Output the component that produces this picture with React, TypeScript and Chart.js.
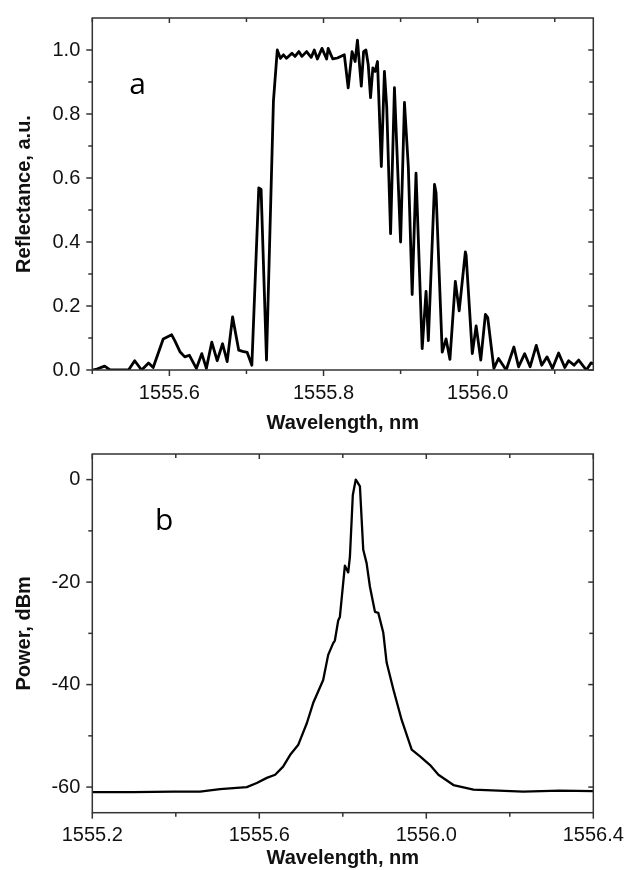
import React, { useEffect, useRef } from 'react';
import { Chart, registerables } from 'chart.js';

Chart.register(...registerables);

// ---------- Panel a: reflectance spectrum ----------
const wavelengthA = [
  1555.500, 1555.506, 1555.516, 1555.523, 1555.532, 1555.547, 1555.555, 1555.564, 1555.573, 1555.579,
  1555.592, 1555.603, 1555.607, 1555.614, 1555.620, 1555.626, 1555.635, 1555.642, 1555.648, 1555.655,
  1555.662, 1555.669, 1555.675, 1555.682, 1555.690, 1555.695, 1555.701, 1555.707, 1555.716, 1555.719,
  1555.726, 1555.735, 1555.740, 1555.744, 1555.748, 1555.752, 1555.759, 1555.763, 1555.768, 1555.772,
  1555.778, 1555.784, 1555.788, 1555.792, 1555.798, 1555.804, 1555.806, 1555.812, 1555.818, 1555.827,
  1555.832, 1555.837, 1555.841, 1555.844, 1555.849, 1555.852, 1555.855, 1555.858, 1555.861, 1555.864,
  1555.867, 1555.870, 1555.875, 1555.879, 1555.882, 1555.887, 1555.892, 1555.900, 1555.905, 1555.910,
  1555.915, 1555.920, 1555.928, 1555.933, 1555.936, 1555.944, 1555.946, 1555.954, 1555.959, 1555.964,
  1555.971, 1555.976, 1555.984, 1555.985, 1555.993, 1555.998, 1556.004, 1556.010, 1556.013, 1556.021,
  1556.027, 1556.037, 1556.047, 1556.053, 1556.061, 1556.068, 1556.076, 1556.083, 1556.090, 1556.097,
  1556.105, 1556.113, 1556.118, 1556.125, 1556.131, 1556.141, 1556.147, 1556.150,
];
const reflectanceA = [
  0.000, 0.003, 0.012, 0.000, 0.000, 0.000, 0.029, 0.000, 0.022, 0.008,
  0.097, 0.110, 0.092, 0.056, 0.041, 0.046, 0.005, 0.051, 0.005, 0.087,
  0.029, 0.082, 0.026, 0.166, 0.062, 0.058, 0.055, 0.015, 0.569, 0.564,
  0.031, 0.840, 1.000, 0.974, 0.985, 0.974, 0.990, 0.980, 0.995, 0.980,
  0.995, 0.977, 1.000, 0.972, 1.005, 0.972, 1.005, 0.972, 0.975, 0.985,
  0.882, 0.995, 0.964, 1.031, 0.887, 0.995, 1.000, 0.954, 0.851, 0.944,
  0.933, 0.964, 0.636, 0.933, 0.821, 0.426, 0.882, 0.400, 0.836, 0.636,
  0.236, 0.615, 0.067, 0.246, 0.092, 0.580, 0.554, 0.056, 0.097, 0.033,
  0.277, 0.185, 0.369, 0.359, 0.051, 0.138, 0.031, 0.174, 0.164, 0.005,
  0.036, 0.000, 0.072, 0.010, 0.051, 0.010, 0.077, 0.015, 0.041, 0.005,
  0.053, 0.008, 0.029, 0.015, 0.031, 0.000, 0.022, 0.020,
];
const xMajorA = [1555.6, 1555.8, 1556.0];
const xMinorA = [1555.5, 1555.7, 1555.9, 1556.1];
const yMajorA = [0.0, 0.2, 0.4, 0.6, 0.8, 1.0];
const yMinorA = [0.1, 0.3, 0.5, 0.7, 0.9];

// ---------- Panel b: laser output spectrum ----------
const wavelengthB = [
  1555.202, 1555.298, 1555.394, 1555.458, 1555.506, 1555.570, 1555.594, 1555.618, 1555.638, 1555.657,
  1555.674, 1555.693, 1555.714, 1555.729, 1555.753, 1555.765, 1555.777, 1555.781, 1555.789, 1555.793,
  1555.805, 1555.813, 1555.817, 1555.824, 1555.831, 1555.835, 1555.841, 1555.849, 1555.857, 1555.865,
  1555.877, 1555.885, 1555.897, 1555.905, 1555.921, 1555.941, 1555.965, 1555.985, 1556.009, 1556.029,
  1556.065, 1556.113, 1556.232, 1556.320, 1556.399,
];
const powerB = [
  -61.0, -61.0, -60.9, -60.9, -60.4, -60.0, -59.2, -58.2, -57.6, -56.0,
  -53.7, -51.8, -47.5, -43.6, -39.1, -34.2, -31.9, -31.4, -27.5, -26.8,
  -16.8, -18.1, -15.1, -3.0, 0.0, -0.5, -1.3, -13.7, -16.3, -20.9,
  -25.8, -26.0, -29.9, -35.7, -40.9, -46.9, -52.7, -54.0, -55.7, -57.6,
  -59.6, -60.5, -60.9, -60.7, -60.8,
];
const xMajorB = [1555.2, 1555.6, 1556.0, 1556.4];
const xMinorB = [1555.4, 1555.8, 1556.2];
const yMajorB = [-60, -40, -20, 0];
const yMinorB = [-50, -30, -10];

const FONT = "'Liberation Sans', Arial, sans-serif";

const framePlugin = {
  id: 'frame',
  afterDraw(chart: any, _args: any, opts: any) {
    const { ctx, chartArea: a } = chart;
    const x = chart.scales.x;
    const y = chart.scales.y;
    ctx.save();
    ctx.strokeStyle = '#333';
    ctx.lineWidth = 1.5;
    ctx.strokeRect(a.left, a.top, a.right - a.left, a.bottom - a.top);
    const seg = (x1: number, y1: number, x2: number, y2: number) => {
      ctx.beginPath();
      ctx.moveTo(x1, y1);
      ctx.lineTo(x2, y2);
      ctx.stroke();
    };
    (opts.xMajor || []).forEach((v: number) => {
      const p = x.getPixelForValue(v);
      seg(p, a.bottom, p, a.bottom + 6);
      seg(p, a.top, p, a.top + 5);
    });
    (opts.xMinor || []).forEach((v: number) => {
      const p = x.getPixelForValue(v);
      seg(p, a.bottom, p, a.bottom + 4);
      seg(p, a.top, p, a.top + 4);
    });
    (opts.yMajor || []).forEach((v: number) => {
      const p = y.getPixelForValue(v);
      seg(a.left, p, a.left - 6, p);
      seg(a.right, p, a.right - 5, p);
    });
    (opts.yMinor || []).forEach((v: number) => {
      const p = y.getPixelForValue(v);
      seg(a.left, p, a.left - 4, p);
      seg(a.right, p, a.right - 4, p);
    });
    if (opts.label) {
      ctx.fillStyle = '#000';
      ctx.font = "30px 'Open Sans', sans-serif";
      ctx.textAlign = 'left';
      ctx.textBaseline = 'alphabetic';
      ctx.fillText(opts.label, x.getPixelForValue(opts.labelX), y.getPixelForValue(opts.labelY));
    }
    ctx.restore();
  },
};

function buildConfig(p: any) {
  return {
    type: 'line',
    data: {
      datasets: [
        {
          data: p.xs.map((v: number, i: number) => ({ x: v, y: p.ys[i] })),
          borderColor: '#000',
          borderWidth: p.lw,
          borderJoinStyle: 'round',
          borderCapStyle: 'round',
          pointRadius: 0,
          tension: 0,
          fill: false,
        },
      ],
    },
    options: {
      animation: false,
      responsive: false,
      events: [],
      layout: { padding: { left: 0, right: 639 - 593.3, top: p.top, bottom: 0 } },
      plugins: {
        legend: { display: false },
        tooltip: { enabled: false },
        frame: {
          xMajor: p.xMajor,
          xMinor: p.xMinor,
          yMajor: p.yMajor,
          yMinor: p.yMinor,
          label: p.label,
          labelX: p.labelX,
          labelY: p.labelY,
        },
      },
      scales: {
        x: {
          type: 'linear',
          min: p.xMin,
          max: p.xMax,
          grid: { display: false, drawTicks: true, tickLength: 6 },
          border: { display: false },
          afterBuildTicks: (s: any) => {
            s.ticks = p.xMajor.map((v: number) => ({ value: v }));
          },
          afterFit: (s: any) => {
            s.height = p.xAxisH;
          },
          ticks: {
            autoSkip: false,
            maxRotation: 0,
            padding: 5,
            color: '#111',
            font: { family: FONT, size: 20 },
            callback: (v: any) => Number(v).toFixed(1),
          },
          title: {
            display: true,
            text: 'Wavelength, nm',
            color: '#111',
            font: { family: FONT, size: 20, weight: 'bold' },
            padding: { top: 2, bottom: 0 },
          },
        },
        y: {
          type: 'linear',
          min: p.yMin,
          max: p.yMax,
          grid: { display: false, drawTicks: true, tickLength: 6 },
          border: { display: false },
          afterBuildTicks: (s: any) => {
            s.ticks = p.yMajor.map((v: number) => ({ value: v }));
          },
          afterFit: (s: any) => {
            s.width = 92.3;
          },
          ticks: {
            autoSkip: false,
            padding: 6,
            color: '#111',
            font: { family: FONT, size: 20 },
            callback: p.yFmt,
          },
          title: {
            display: true,
            text: p.yTitle,
            color: '#111',
            font: { family: FONT, size: 20, weight: 'bold' },
            padding: { top: 12, bottom: 0 },
          },
        },
      },
    },
    plugins: [framePlugin],
  };
}

function Panel(props: any) {
  const ref = useRef<HTMLCanvasElement | null>(null);
  useEffect(() => {
    if (!ref.current) return;
    const chart = new Chart(ref.current, buildConfig(props.cfg) as any);
    return () => chart.destroy();
  }, []);
  return (
    <canvas
      ref={ref}
      width={639}
      height={435}
      style={{ position: 'absolute', left: 0, top: props.top, width: 639, height: 435, display: 'block' }}
    />
  );
}

const cfgA = {
  xs: wavelengthA,
  ys: reflectanceA,
  lw: 2.8,
  xMin: 1555.5,
  xMax: 1556.15,
  yMin: 0,
  yMax: 1.1,
  xMajor: xMajorA,
  xMinor: xMinorA,
  yMajor: yMajorA,
  yMinor: yMinorA,
  top: 12.7,
  xAxisH: 435 - 370,
  yTitle: 'Reflectance, a.u.',
  yFmt: (v: any) => Number(v).toFixed(1),
  label: 'a',
  labelX: 1555.548,
  labelY: 0.862,
};

const cfgB = {
  xs: wavelengthB,
  ys: powerB,
  lw: 2.3,
  xMin: 1555.2,
  xMax: 1556.4,
  yMin: -65,
  yMax: 5,
  xMajor: xMajorB,
  xMinor: xMinorB,
  yMajor: yMajorB,
  yMinor: yMinorB,
  top: 454 - 435,
  xAxisH: 435 - (812.7 - 435),
  yTitle: 'Power, dBm',
  yFmt: (v: any) => String(v),
  label: 'b',
  labelX: 1555.35,
  labelY: -9.84,
};

export default function App() {
  return (
    <div style={{ position: 'absolute', left: 0, top: 0, width: 639, height: 870, background: '#fff' }}>
      <Panel cfg={cfgA} top={0} />
      <Panel cfg={cfgB} top={435} />
    </div>
  );
}
